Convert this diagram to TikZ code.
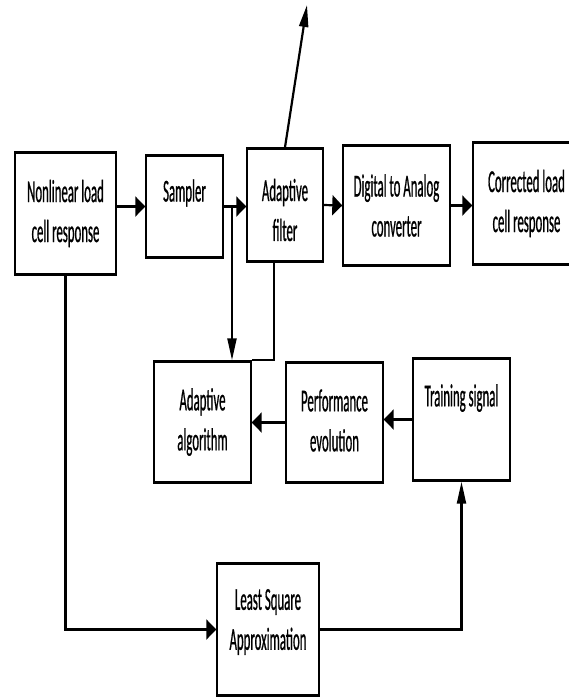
\documentclass[tikz,border=0pt]{standalone}
\usepackage{fontspec}
\usetikzlibrary{arrows.meta, positioning}
\newfontfamily\boxfont[FakeStretch=0.40, FakeBold=0.6]{Carlito}

\tikzset{
  box/.style={draw, line width=0.7pt, inner sep=0pt,
    path picture={\draw[line width=2.2pt]
      (path picture bounding box.north west) -- (path picture bounding box.north east)
      (path picture bounding box.south west) -- (path picture bounding box.south east);}},
  txt/.style={align=center, font=\boxfont\fontsize{16pt}{20pt}\selectfont},
  link/.style={line width=1.1pt},
  harrow/.style={link, -{Triangle[length=5pt,width=10pt]}},
  varrow/.style={link, -{Triangle[length=11pt,width=4.5pt]}}
}

\begin{document}
\begin{tikzpicture}[x=0.5pt, y=-0.5pt]
\useasboundingbox (0,0) rectangle (569,698);
\clip (0,0) rectangle (569,698);
% top row
\node[box, minimum width=50.5pt, minimum height=61.5pt,
  label={[txt, name=nonlin-t]center:{Nonlinear load\\cell response}}] (nonlin) at (65.5,213.5) {};
\node[box, minimum width=38.5pt, minimum height=51.5pt,
  label={[txt, name=sampler-t, yshift=6.75pt]center:Sampler}] (sampler) at (184.5,206.5) {};
\node[box, minimum width=38pt, minimum height=57pt,
  label={[txt, name=filter-t, yshift=-2.5pt]center:{Adaptive\\filter}}] (filter) at (285,205) {};
\node[box, minimum width=53.5pt, minimum height=60.5pt,
  label={[txt, name=dac-t]center:{Digital to Analog\\converter}}] (dac) at (396.5,205.5) {};
\node[box, minimum width=53.5pt, minimum height=61.5pt,
  label={[txt, name=corr-t]center:{Corrected load\\cell response}}] (corr) at (526.5,203.5) {};
% middle row
\node[box, minimum width=48.5pt, minimum height=61pt,
  label={[txt, name=algo-t]center:{Adaptive\\algorithm}}] (algo) at (202.5,422) {};
\node[box, minimum width=48.5pt, minimum height=60.5pt,
  label={[txt, name=perf-t, yshift=1pt]center:{Performance\\evolution}}] (perf) at (334.5,422.5) {};
\node[box, minimum width=48.5pt, minimum height=61.5pt,
  label={[txt, name=train-t, yshift=10.75pt]center:Training signal}] (train) at (461.5,419.5) {};
% bottom
\node[box, minimum width=51pt, minimum height=66.5pt,
  label={[txt, name=lsa-t, yshift=3.75pt]center:{Least Square\\Approximation}}] (lsa) at (268,629.5) {};

\coordinate (tap) at (232,206.5);
\coordinate (out) at (307,5);

% signal path
\draw[harrow] (nonlin.east |- sampler.west) -- (sampler.west);
\draw[harrow] (sampler.east) -- (filter.west |- sampler.east);
\draw[harrow] (filter.east) -- (dac.west);
\draw[harrow] (dac.east) -- (dac.east -| corr.west);
\draw[varrow] (filter.north) -- (out);
% adaptation loop
\draw[varrow] (tap) -- (algo.north -| tap);
\draw[link] ([xshift=-5.5pt]filter.south) |- (algo.north east);
\draw[harrow] (train.west) -- (train.west -| perf.east);
\draw[harrow] (perf.west) -- (perf.west -| algo.east);
\draw[harrow] (nonlin.south) |- (lsa.west);
\draw[varrow] (lsa.east) -| (train.south);
\end{tikzpicture}
\end{document}
